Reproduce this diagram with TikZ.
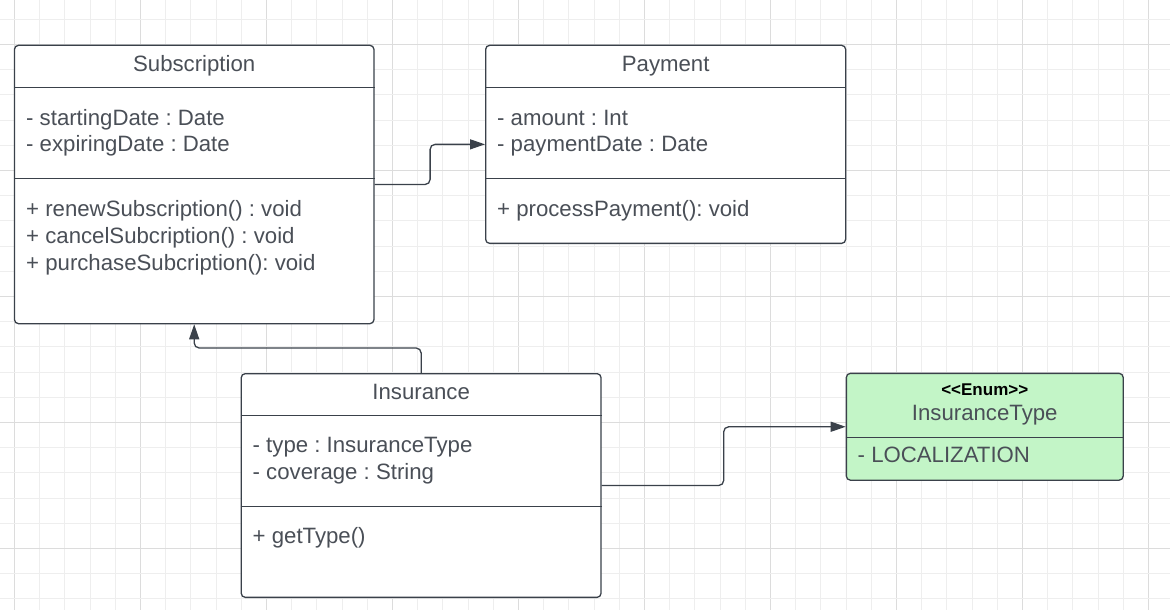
\documentclass[tikz,border=0pt]{standalone}
\usepackage{fontspec}
\setmainfont{Liberation Sans}
\frenchspacing
\usetikzlibrary{arrows.meta,calc}
\definecolor{gridlight}{HTML}{EEEEEE}
\definecolor{griddark}{HTML}{DCDCDC}
\definecolor{lineclr}{HTML}{3A414A}
\definecolor{txtclr}{HTML}{4A4F57}
\definecolor{enumfill}{HTML}{C3F5C7}
\tikzset{
  umlbox/.style={draw=lineclr, line width=1.3pt, rounded corners=4pt, fill=white, inner sep=0pt, anchor=north west},
  divline/.style={draw=lineclr, line width=1.3pt},
  conn/.style={draw=lineclr, line width=1.3pt, rounded corners=5pt, -{Triangle[length=15pt,width=10pt]}},
  txt/.style={text=txtclr, inner sep=0pt, font=\fontsize{22.2}{26}\selectfont\frenchspacing},
  attr/.style={txt, anchor=base west},
  ttl/.style={txt, anchor=base},
  stereo/.style={text=black, inner sep=0pt, anchor=base, font=\fontsize{17}{20}\selectfont\bfseries}
}
\begin{document}
\begin{tikzpicture}[x=1pt,y=-1pt]
\useasboundingbox (0,0) rectangle (1170,610);
\fill[white] (0,0) rectangle (1170,610);
% grid
\foreach \k in {0,...,45} {
  \pgfmathsetmacro{\gx}{14.3+25.2*\k}
  \pgfmathtruncatemacro{\m}{mod(\k,5)}
  \ifnum\m=0 \draw[griddark, line width=0.9pt] (\gx,0) -- (\gx,610);
  \else \draw[gridlight, line width=0.8pt] (\gx,0) -- (\gx,610); \fi
}
\foreach \k in {0,...,23} {
  \pgfmathsetmacro{\gy}{19.1+25.2*\k}
  \pgfmathtruncatemacro{\m}{mod(\k,5)}
  \ifnum\m=1 \draw[griddark, line width=0.9pt] (0,\gy) -- (1170,\gy);
  \else \draw[gridlight, line width=0.8pt] (0,\gy) -- (1170,\gy); \fi
}
% boxes
\node[umlbox, minimum width=359.5pt, minimum height=278.3pt] (sub) at (13.8,44.7) {};
\node[umlbox, minimum width=360pt, minimum height=198pt] (pay) at (485,44.7) {};
\node[umlbox, minimum width=359.8pt, minimum height=223.7pt] (ins) at (240.6,373) {};
\node[umlbox, fill=enumfill, minimum width=276.8pt, minimum height=106.8pt] (enm) at (845.7,372.7) {};
% dividers
\draw[divline] (sub.west |- 0,87.8) -- (sub.east |- 0,87.8);
\draw[divline] (sub.west |- 0,178.4) -- (sub.east |- 0,178.4);
\draw[divline] (pay.west |- 0,87.8) -- (pay.east |- 0,87.8);
\draw[divline] (pay.west |- 0,178.4) -- (pay.east |- 0,178.4);
\draw[divline] (ins.west |- 0,415.7) -- (ins.east |- 0,415.7);
\draw[divline] (ins.west |- 0,506.7) -- (ins.east |- 0,506.7);
\draw[divline] (enm.west |- 0,437.3) -- (enm.east |- 0,437.3);
% Subscription texts
\node[ttl] (subT) at (sub.north |- 0,71.7) {Subscription};
\node[attr] (subA1) at (26,125) {- startingDate : Date};
\node[attr] (subA2) at (26,151.8) {- expiringDate : Date};
\node[attr] (subM1) at (26,216) {+ renewSubscription() : void};
\node[attr] (subM2) at (26,243) {+ cancelSubcription() : void};
\node[attr] (subM3) at (26,270) {+ purchaseSubcription(): void};
% Payment texts
\node[ttl] (payT) at (pay.north |- 0,71.7) {Payment};
\node[attr] (payA1) at (497,125) {- amount : Int};
\node[attr] (payA2) at (497,151.8) {- paymentDate : Date};
\node[attr] (payM1) at (497,216) {+ processPayment(): void};
% Insurance texts
\node[ttl] (insT) at (ins.north |- 0,399) {Insurance};
\node[attr] (insA1) at (252.5,452) {- type : InsuranceType};
\node[attr] (insA2) at (252.5,479) {- coverage : String};
\node[attr] (insM1) at (252.5,543.5) {+ getType()};
% Enum texts
\node[stereo] (enmS) at (enm.north |- 0,395) {<{}<Enum>{}>};
\node[ttl] (enmT) at (enm.north |- 0,420) {InsuranceType};
\node[attr] (enmA1) at (857.5,462) {- LOCALIZATION};
% connectors
\draw[conn] (sub.east) -- ++(55.5,0) |- (pay.west);
\draw[conn] (ins.north) -- ++(0,-25) -| (sub.south);
\draw[conn] (ins.east) -- ++(122,0) |- (enm.west);
\end{tikzpicture}
\end{document}
